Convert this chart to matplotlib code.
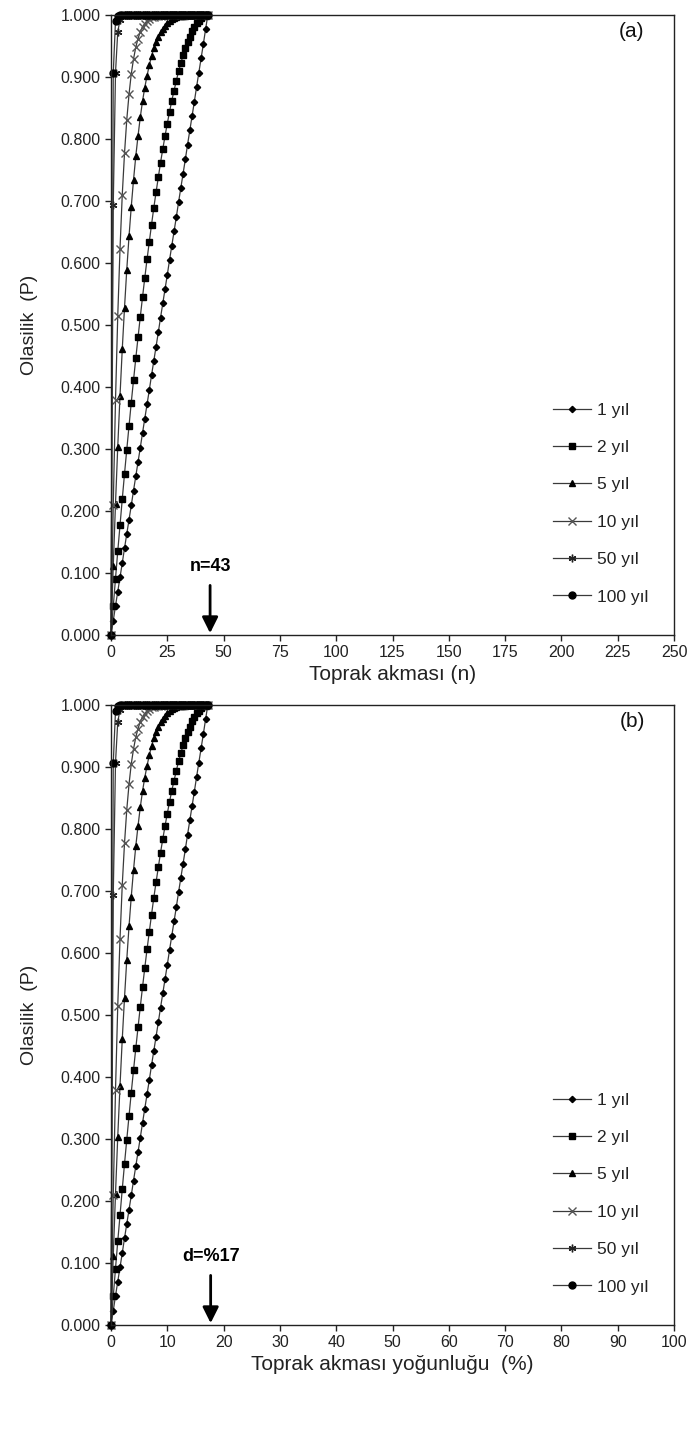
import matplotlib
matplotlib.use("Agg")
import matplotlib.pyplot as plt
from matplotlib.ticker import FormatStrFormatter, MultipleLocator

plt.rcParams['font.family'] = ['Liberation Sans', 'DejaVu Sans']

# Toprak akmasi sayisi (n)
n_vals = [0, 1, 2, 3, 4, 5, 6, 7, 8, 9, 10, 11, 12, 13, 14, 15, 16, 17, 18, 19, 20,
          21, 22, 23, 24, 25, 26, 27, 28, 29, 30, 31, 32, 33, 34, 35, 36, 37, 38, 39,
          40, 41, 42, 43]
# Toprak akmasi yogunlugu (%)
d_vals = [0.0, 0.4, 0.8, 1.2, 1.6, 2.0, 2.4, 2.8, 3.2, 3.6, 4.0, 4.4, 4.8, 5.2, 5.6,
          6.0, 6.4, 6.8, 7.2, 7.6, 8.0, 8.4, 8.8, 9.2, 9.6, 10.0, 10.4, 10.8, 11.2,
          11.6, 12.0, 12.4, 12.8, 13.2, 13.6, 14.0, 14.4, 14.8, 15.2, 15.6, 16.0,
          16.4, 16.8, 17.2]

p_1 = [0.000, 0.023, 0.047, 0.070, 0.093, 0.116, 0.140, 0.163, 0.186, 0.209, 0.233,
       0.256, 0.279, 0.302, 0.326, 0.349, 0.372, 0.395, 0.419, 0.442, 0.465, 0.488,
       0.512, 0.535, 0.558, 0.581, 0.605, 0.628, 0.651, 0.674, 0.698, 0.721, 0.744,
       0.767, 0.791, 0.814, 0.837, 0.860, 0.884, 0.907, 0.930, 0.953, 0.977, 1.000]
p_2 = [0.000, 0.046, 0.091, 0.135, 0.177, 0.219, 0.260, 0.299, 0.337, 0.375, 0.411,
       0.446, 0.480, 0.513, 0.545, 0.576, 0.606, 0.634, 0.662, 0.689, 0.714, 0.738,
       0.762, 0.784, 0.805, 0.825, 0.844, 0.862, 0.878, 0.894, 0.909, 0.922, 0.935,
       0.946, 0.956, 0.965, 0.974, 0.981, 0.987, 0.991, 0.995, 0.998, 0.999, 1.000]
p_5 = [0.000, 0.111, 0.212, 0.304, 0.386, 0.461, 0.528, 0.589, 0.643, 0.691, 0.734,
       0.772, 0.805, 0.835, 0.861, 0.883, 0.902, 0.919, 0.934, 0.946, 0.956, 0.965,
       0.972, 0.978, 0.983, 0.987, 0.990, 0.993, 0.995, 0.996, 0.998, 0.998, 0.999,
       0.999, 1.000, 1.000, 1.000, 1.000, 1.000, 1.000, 1.000, 1.000, 1.000, 1.000]
p_10 = [0.000, 0.210, 0.379, 0.515, 0.623, 0.710, 0.777, 0.831, 0.872, 0.905, 0.929,
        0.948, 0.962, 0.973, 0.981, 0.986, 0.991, 0.994, 0.996, 0.997, 0.998, 0.999,
        0.999, 1.000, 1.000, 1.000, 1.000, 1.000, 1.000, 1.000, 1.000, 1.000, 1.000,
        1.000, 1.000, 1.000, 1.000, 1.000, 1.000, 1.000, 1.000, 1.000, 1.000, 1.000]
p_50 = [0.000, 0.693, 0.907, 0.973, 0.992, 0.998, 1.000, 1.000, 1.000, 1.000, 1.000,
        1.000, 1.000, 1.000, 1.000, 1.000, 1.000, 1.000, 1.000, 1.000, 1.000, 1.000,
        1.000, 1.000, 1.000, 1.000, 1.000, 1.000, 1.000, 1.000, 1.000, 1.000, 1.000,
        1.000, 1.000, 1.000, 1.000, 1.000, 1.000, 1.000, 1.000, 1.000, 1.000, 1.000]
p_100 = [0.000, 0.906, 0.991, 0.999, 1.000, 1.000, 1.000, 1.000, 1.000, 1.000, 1.000,
         1.000, 1.000, 1.000, 1.000, 1.000, 1.000, 1.000, 1.000, 1.000, 1.000, 1.000,
         1.000, 1.000, 1.000, 1.000, 1.000, 1.000, 1.000, 1.000, 1.000, 1.000, 1.000,
         1.000, 1.000, 1.000, 1.000, 1.000, 1.000, 1.000, 1.000, 1.000, 1.000, 1.000]

series_labels = ["1 yıl", "2 yıl", "5 yıl", "10 yıl", "50 yıl", "100 yıl"]
series_values = [p_1, p_2, p_5, p_10, p_50, p_100]

styles = [
    dict(marker='D', markersize=3.2, markerfacecolor='black', markeredgecolor='black'),
    dict(marker='s', markersize=4.8, markerfacecolor='black', markeredgecolor='black'),
    dict(marker='^', markersize=5.0, markerfacecolor='black', markeredgecolor='black'),
    dict(marker='x', markersize=5.5, markeredgecolor='#555555', markeredgewidth=1.0),
    dict(marker=(6, 2, 0), markersize=5.5, markeredgecolor='#222222', markeredgewidth=1.0),
    dict(marker='o', markersize=5.0, markerfacecolor='black', markeredgecolor='black'),
]

W, H = 691, 1430
fig = plt.figure(figsize=(W / 100, H / 100), dpi=100)

ax_left = 111 / W
ax_w = 563 / W
ax_h = 620 / H
ax_a = fig.add_axes([ax_left, 1 - 635 / H, ax_w, ax_h])
ax_b = fig.add_axes([ax_left, 1 - 1325 / H, ax_w, ax_h])

panels = [
    (ax_a, n_vals, 250, 25, "Toprak akması (n)", "(a)", 44.0, "n=43"),
    (ax_b, d_vals, 100, 10, "Toprak akması yoğunluğu  (%)", "(b)", 17.7, "d=%17"),
]

for ax, xs, xmax, xstep, xlabel, tag, arrow_x, arrow_text in panels:
    for lab, vals, st in zip(series_labels, series_values, styles):
        ax.plot(xs, vals, color='#3a3a3a', lw=0.9, label=lab, clip_on=False, **st)
    ax.set_xlim(0, xmax)
    ax.set_ylim(0, 1)
    ax.xaxis.set_major_locator(MultipleLocator(xstep))
    ax.yaxis.set_major_locator(MultipleLocator(0.1))
    ax.yaxis.set_major_formatter(FormatStrFormatter('%.3f'))
    ax.tick_params(direction='out', length=4, width=1, labelsize=11.5, colors='#222222')
    for s in ax.spines.values():
        s.set_linewidth(1.0)
        s.set_color('#222222')
    ax.set_xlabel(xlabel, fontsize=15, labelpad=3, color='#222222')
    ax.set_ylabel("Olasilik  (P)", fontsize=14, labelpad=16, color='#222222')
    ax.text(0.948, 0.973, tag, transform=ax.transAxes, ha='right', va='center',
            fontsize=15, color='#111111')
    ax.annotate('', xy=(arrow_x, 0.003), xytext=(arrow_x, 0.08),
                arrowprops=dict(arrowstyle='-|>', lw=2, color='black', mutation_scale=24,
                                shrinkA=0, shrinkB=0))
    ax.text(arrow_x, 0.11, arrow_text, ha='center', va='center', fontsize=13,
            fontweight='bold')
    ax.legend(loc='center left', bbox_to_anchor=(0.772, 0.212), frameon=False,
              fontsize=12.5, handlelength=2.2, labelspacing=1.28, handletextpad=0.35,
              borderaxespad=0, labelcolor='#222222')

fig.savefig("out.png", dpi=100)
